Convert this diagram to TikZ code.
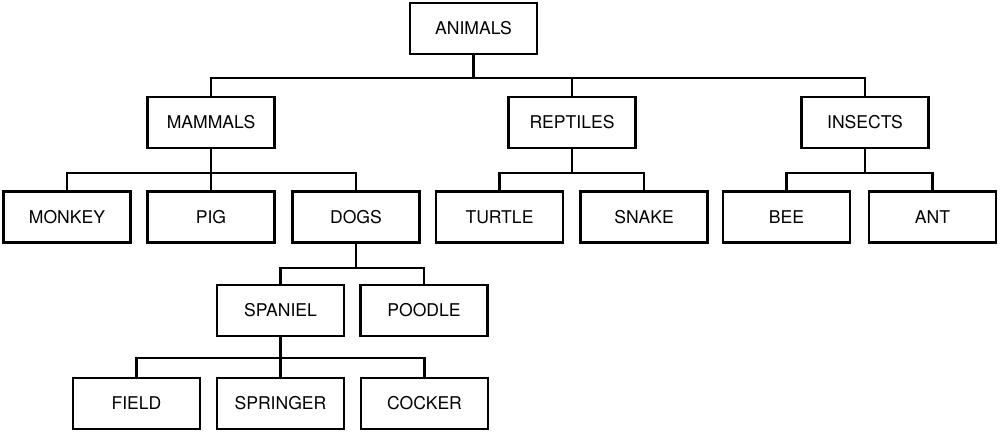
\documentclass[tikz,border=0pt]{standalone}
\usepackage{fontspec}
\setmainfont{TeX Gyre Heros}

\begin{document}
\begin{tikzpicture}[box/.style={draw, line width=1.5pt, minimum width=2.54cm, minimum height=1.02cm, inner sep=0pt},
  link/.style={line width=1.3pt}]
\useasboundingbox (0,0) rectangle (20,8.62);

% top and second level
\node[box] (animals) at (9.47,8.05) {ANIMALS};
\node[box] (mammals) at (4.22,6.17) {MAMMALS};
\node[box] (reptiles) at (11.44,6.17) {REPTILES};
\node[box] (insects) at (17.30,6.17) {INSECTS};

% third level
\node[box] (monkey) at (1.34,4.28) {MONKEY};
\node[box] (pig) at (4.22,4.28) {PIG};
\node[box] (dogs) at (7.12,4.28) {DOGS};
\node[box] (turtle) at (9.99,4.28) {TURTLE};
\node[box] (snake) at (12.88,4.28) {SNAKE};
\node[box] (bee) at (15.73,4.28) {BEE};
\node[box] (ant) at (18.65,4.28) {ANT};

% dogs
\node[box] (spaniel) at (5.61,2.41) {SPANIEL};
\node[box] (poodle) at (8.48,2.41) {POODLE};
\node[box] (field) at (2.73,0.55) {FIELD};
\node[box] (springer) at (5.61,0.55) {SPRINGER};
\node[box] (cocker) at (8.49,0.55) {COCKER};

\foreach \c in {mammals,reptiles,insects}
  \draw[link] (animals.south) -- ++(0,-0.46) -| (\c.north);
\foreach \c in {monkey,pig,dogs}
  \draw[link] (mammals.south) -- ++(0,-0.48) -| (\c.north);
\foreach \c in {turtle,snake}
  \draw[link] (reptiles.south) -- ++(0,-0.48) -| (\c.north);
\foreach \c in {bee,ant}
  \draw[link] (insects.south) -- ++(0,-0.48) -| (\c.north);
\foreach \c in {spaniel,poodle}
  \draw[link] (dogs.south) -- ++(0,-0.48) -| (\c.north);
\foreach \c in {field,springer,cocker}
  \draw[link] (spaniel.south) -- ++(0,-0.42) -| (\c.north);

\end{tikzpicture}
\end{document}
